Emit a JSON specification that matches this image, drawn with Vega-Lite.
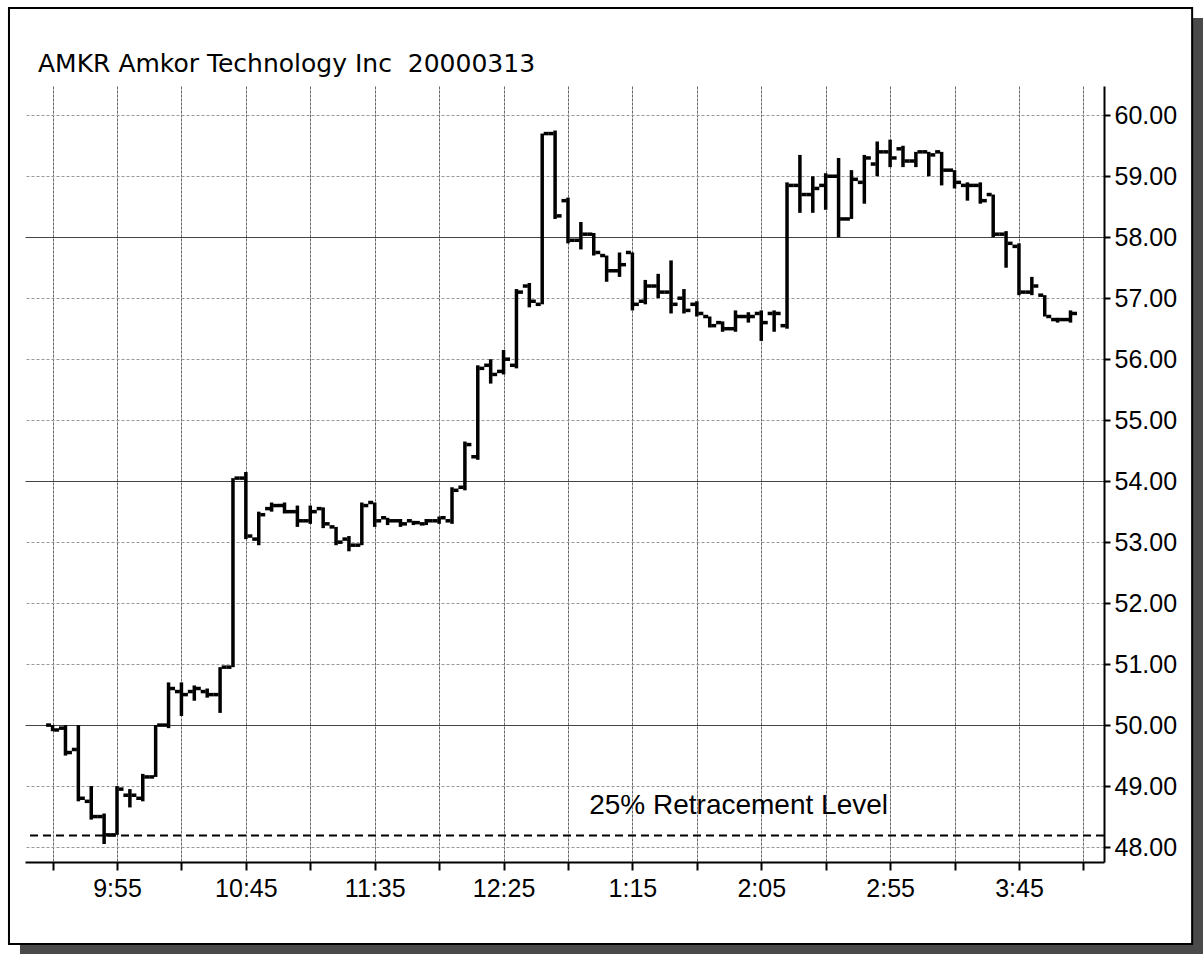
{
  "$schema": "https://vega.github.io/schema/vega-lite/v6.json",
  "width": 1079,
  "height": 776,
  "autosize": {"type": "none"},
  "padding": {"left": 25, "top": 86, "right": 99, "bottom": 92},
  "background": "white",
  "config": {"view": {"stroke": null}, "font": "Liberation Sans"},
  "layer": [
    {
      "data": {"values": [{}]},
      "mark": {"type": "rect", "fill": "#4a4a4a"},
      "encoding": {
        "x": {"datum": {"year": 1900, "month": 1, "date": 1, "hours": 16, "minutes": 52, "seconds": 30, "utc": true}, "type": "temporal", "scale": {"type": "utc", "nice": false, "domain": [{"year": 1900, "month": 1, "date": 1, "hours": 9, "minutes": 19, "seconds": 18, "utc": true}, {"year": 1900, "month": 1, "date": 1, "hours": 16, "minutes": 18, "utc": true}]}},
        "x2": {"datum": {"year": 1900, "month": 1, "date": 1, "hours": 17, "minutes": 1, "seconds": 6, "utc": true}},
        "y": {"datum": 61.595, "type": "quantitative", "scale": {"domain": [47.755, 60.48], "nice": false, "zero": false}},
        "y2": {"datum": 46.066}
      }
    },
    {
      "data": {"values": [{}]},
      "mark": {"type": "rect", "fill": "#4a4a4a"},
      "encoding": {
        "x": {"datum": {"year": 1900, "month": 1, "date": 1, "hours": 9, "minutes": 17, "seconds": 22, "utc": true}, "type": "temporal", "scale": {"type": "utc", "nice": false, "domain": [{"year": 1900, "month": 1, "date": 1, "hours": 9, "minutes": 19, "seconds": 18, "utc": true}, {"year": 1900, "month": 1, "date": 1, "hours": 16, "minutes": 18, "utc": true}]}},
        "x2": {"datum": {"year": 1900, "month": 1, "date": 1, "hours": 17, "minutes": 1, "seconds": 6, "utc": true}},
        "y": {"datum": 46.394, "type": "quantitative", "scale": {"domain": [47.755, 60.48], "nice": false, "zero": false}},
        "y2": {"datum": 46.066}
      }
    },
    {
      "data": {"values": [{}]},
      "mark": {"type": "rect", "filled": false, "stroke": "black", "strokeWidth": 2},
      "encoding": {
        "x": {"datum": {"year": 1900, "month": 1, "date": 1, "hours": 9, "minutes": 13, "seconds": 5, "utc": true}, "type": "temporal", "scale": {"type": "utc", "nice": false, "domain": [{"year": 1900, "month": 1, "date": 1, "hours": 9, "minutes": 19, "seconds": 18, "utc": true}, {"year": 1900, "month": 1, "date": 1, "hours": 16, "minutes": 18, "utc": true}]}},
        "x2": {"datum": {"year": 1900, "month": 1, "date": 1, "hours": 16, "minutes": 52, "seconds": 12, "utc": true}},
        "y": {"datum": 61.759, "type": "quantitative", "scale": {"domain": [47.755, 60.48], "nice": false, "zero": false}},
        "y2": {"datum": 46.41}
      }
    },
    {
      "data": {"values": [{}]},
      "mark": {"type": "text", "fontSize": 25, "font": "DejaVu Sans", "color": "black", "align": "left", "baseline": "alphabetic"},
      "encoding": {
        "x": {"datum": {"year": 1900, "month": 1, "date": 1, "hours": 9, "minutes": 24, "seconds": 21, "utc": true}, "type": "temporal", "scale": {"type": "utc", "nice": false, "domain": [{"year": 1900, "month": 1, "date": 1, "hours": 9, "minutes": 19, "seconds": 18, "utc": true}, {"year": 1900, "month": 1, "date": 1, "hours": 16, "minutes": 18, "utc": true}]}},
        "y": {"datum": 60.71, "type": "quantitative", "scale": {"domain": [47.755, 60.48], "nice": false, "zero": false}},
        "text": {"value": "AMKR Amkor Technology Inc\u00a0 20000313"}
      }
    },
    {
      "data": {"values": [{}]},
      "mark": {"type": "rule", "strokeDash": [8, 5], "strokeWidth": 2, "color": "black"},
      "encoding": {
        "y": {"datum": 48.19, "type": "quantitative", "scale": {"domain": [47.755, 60.48], "nice": false, "zero": false}}
      }
    },
    {
      "data": {"values": [{}]},
      "mark": {"type": "text", "fontSize": 28, "font": "Liberation Sans", "color": "black", "align": "center", "baseline": "middle"},
      "encoding": {
        "x": {"datum": {"year": 1900, "month": 1, "date": 1, "hours": 13, "minutes": 56, "seconds": 12, "utc": true}, "type": "temporal", "scale": {"type": "utc", "nice": false, "domain": [{"year": 1900, "month": 1, "date": 1, "hours": 9, "minutes": 19, "seconds": 18, "utc": true}, {"year": 1900, "month": 1, "date": 1, "hours": 16, "minutes": 18, "utc": true}]}},
        "y": {"datum": 48.678, "type": "quantitative", "scale": {"domain": [47.755, 60.48], "nice": false, "zero": false}},
        "text": {"value": "25% Retracement Level"}
      }
    },
    {
      "data": {
        "format": {"parse": {"t": "utc:'%H:%M'"}},
        "values": [
          {"t": "09:30", "o": 50.00, "h": 50.00, "l": 49.90, "c": 49.92},
          {"t": "09:35", "o": 49.95, "h": 50.00, "l": 49.50, "c": 49.55},
          {"t": "09:40", "o": 49.60, "h": 50.00, "l": 48.75, "c": 48.80},
          {"t": "09:45", "o": 48.75, "h": 49.00, "l": 48.45, "c": 48.50},
          {"t": "09:50", "o": 48.50, "h": 48.55, "l": 48.05, "c": 48.20},
          {"t": "09:55", "o": 48.20, "h": 49.00, "l": 48.20, "c": 48.95},
          {"t": "10:00", "o": 48.85, "h": 48.95, "l": 48.65, "c": 48.85},
          {"t": "10:05", "o": 48.80, "h": 49.20, "l": 48.75, "c": 49.15},
          {"t": "10:10", "o": 49.15, "h": 50.00, "l": 49.15, "c": 50.00},
          {"t": "10:15", "o": 50.00, "h": 50.70, "l": 49.95, "c": 50.60},
          {"t": "10:20", "o": 50.55, "h": 50.70, "l": 50.15, "c": 50.50},
          {"t": "10:25", "o": 50.55, "h": 50.65, "l": 50.40, "c": 50.60},
          {"t": "10:30", "o": 50.55, "h": 50.60, "l": 50.45, "c": 50.50},
          {"t": "10:35", "o": 50.50, "h": 50.95, "l": 50.20, "c": 50.95},
          {"t": "10:40", "o": 50.95, "h": 54.05, "l": 50.95, "c": 54.05},
          {"t": "10:45", "o": 54.05, "h": 54.15, "l": 53.05, "c": 53.10},
          {"t": "10:50", "o": 53.05, "h": 53.50, "l": 52.95, "c": 53.45},
          {"t": "10:55", "o": 53.55, "h": 53.65, "l": 53.50, "c": 53.60},
          {"t": "11:00", "o": 53.60, "h": 53.65, "l": 53.47, "c": 53.50},
          {"t": "11:05", "o": 53.50, "h": 53.60, "l": 53.25, "c": 53.35},
          {"t": "11:10", "o": 53.35, "h": 53.60, "l": 53.30, "c": 53.50},
          {"t": "11:15", "o": 53.55, "h": 53.57, "l": 53.23, "c": 53.30},
          {"t": "11:20", "o": 53.25, "h": 53.25, "l": 52.95, "c": 53.00},
          {"t": "11:25", "o": 53.05, "h": 53.10, "l": 52.85, "c": 52.95},
          {"t": "11:30", "o": 52.95, "h": 53.65, "l": 52.95, "c": 53.60},
          {"t": "11:35", "o": 53.65, "h": 53.65, "l": 53.25, "c": 53.35},
          {"t": "11:40", "o": 53.40, "h": 53.40, "l": 53.28, "c": 53.35},
          {"t": "11:45", "o": 53.35, "h": 53.38, "l": 53.25, "c": 53.30},
          {"t": "11:50", "o": 53.35, "h": 53.35, "l": 53.28, "c": 53.32},
          {"t": "11:55", "o": 53.30, "h": 53.38, "l": 53.28, "c": 53.35},
          {"t": "12:00", "o": 53.35, "h": 53.42, "l": 53.30, "c": 53.40},
          {"t": "12:05", "o": 53.35, "h": 53.90, "l": 53.30, "c": 53.85},
          {"t": "12:10", "o": 53.90, "h": 54.65, "l": 53.85, "c": 54.60},
          {"t": "12:15", "o": 54.40, "h": 55.90, "l": 54.35, "c": 55.85},
          {"t": "12:20", "o": 55.90, "h": 56.00, "l": 55.60, "c": 55.75},
          {"t": "12:25", "o": 55.80, "h": 56.15, "l": 55.75, "c": 56.00},
          {"t": "12:30", "o": 55.90, "h": 57.15, "l": 55.85, "c": 57.10},
          {"t": "12:35", "o": 57.20, "h": 57.25, "l": 56.85, "c": 56.95},
          {"t": "12:40", "o": 56.90, "h": 59.70, "l": 56.90, "c": 59.70},
          {"t": "12:45", "o": 59.70, "h": 59.75, "l": 58.30, "c": 58.35},
          {"t": "12:50", "o": 58.60, "h": 58.65, "l": 57.90, "c": 57.95},
          {"t": "12:55", "o": 57.95, "h": 58.25, "l": 57.80, "c": 58.05},
          {"t": "13:00", "o": 58.05, "h": 58.07, "l": 57.70, "c": 57.75},
          {"t": "13:05", "o": 57.70, "h": 57.70, "l": 57.27, "c": 57.45},
          {"t": "13:10", "o": 57.45, "h": 57.75, "l": 57.35, "c": 57.55},
          {"t": "13:15", "o": 57.75, "h": 57.75, "l": 56.80, "c": 56.90},
          {"t": "13:20", "o": 56.95, "h": 57.30, "l": 56.90, "c": 57.20},
          {"t": "13:25", "o": 57.20, "h": 57.40, "l": 57.00, "c": 57.10},
          {"t": "13:30", "o": 57.10, "h": 57.62, "l": 56.75, "c": 56.90},
          {"t": "13:35", "o": 57.00, "h": 57.15, "l": 56.75, "c": 56.80},
          {"t": "13:40", "o": 56.90, "h": 56.95, "l": 56.70, "c": 56.75},
          {"t": "13:45", "o": 56.70, "h": 56.70, "l": 56.52, "c": 56.55},
          {"t": "13:50", "o": 56.60, "h": 56.62, "l": 56.45, "c": 56.50},
          {"t": "13:55", "o": 56.50, "h": 56.80, "l": 56.45, "c": 56.70},
          {"t": "14:00", "o": 56.70, "h": 56.77, "l": 56.60, "c": 56.70},
          {"t": "14:05", "o": 56.75, "h": 56.80, "l": 56.30, "c": 56.60},
          {"t": "14:10", "o": 56.75, "h": 56.80, "l": 56.45, "c": 56.75},
          {"t": "14:15", "o": 56.55, "h": 58.90, "l": 56.50, "c": 58.85},
          {"t": "14:20", "o": 58.85, "h": 59.35, "l": 58.40, "c": 58.70},
          {"t": "14:25", "o": 58.70, "h": 59.00, "l": 58.40, "c": 58.80},
          {"t": "14:30", "o": 58.85, "h": 59.05, "l": 58.45, "c": 59.00},
          {"t": "14:35", "o": 59.00, "h": 59.30, "l": 58.00, "c": 58.30},
          {"t": "14:40", "o": 58.30, "h": 59.10, "l": 58.30, "c": 58.95},
          {"t": "14:45", "o": 58.90, "h": 59.35, "l": 58.55, "c": 59.30},
          {"t": "14:50", "o": 59.20, "h": 59.57, "l": 59.00, "c": 59.40},
          {"t": "14:55", "o": 59.40, "h": 59.60, "l": 59.15, "c": 59.30},
          {"t": "15:00", "o": 59.45, "h": 59.50, "l": 59.15, "c": 59.25},
          {"t": "15:05", "o": 59.25, "h": 59.40, "l": 59.15, "c": 59.40},
          {"t": "15:10", "o": 59.40, "h": 59.40, "l": 59.00, "c": 59.35},
          {"t": "15:15", "o": 59.40, "h": 59.40, "l": 58.85, "c": 59.10},
          {"t": "15:20", "o": 59.10, "h": 59.10, "l": 58.80, "c": 58.90},
          {"t": "15:25", "o": 58.85, "h": 58.90, "l": 58.60, "c": 58.85},
          {"t": "15:30", "o": 58.85, "h": 58.90, "l": 58.55, "c": 58.60},
          {"t": "15:35", "o": 58.70, "h": 58.70, "l": 58.00, "c": 58.05},
          {"t": "15:40", "o": 58.05, "h": 58.10, "l": 57.50, "c": 57.90},
          {"t": "15:45", "o": 57.85, "h": 57.90, "l": 57.05, "c": 57.10},
          {"t": "15:50", "o": 57.10, "h": 57.35, "l": 57.05, "c": 57.20},
          {"t": "15:55", "o": 57.05, "h": 57.05, "l": 56.70, "c": 56.70},
          {"t": "16:00", "o": 56.65, "h": 56.68, "l": 56.60, "c": 56.65},
          {"t": "16:05", "o": 56.65, "h": 56.80, "l": 56.60, "c": 56.75}
        ]
      },
      "layer": [
        {
          "mark": {"type": "rule", "strokeWidth": 3.5, "color": "black"},
          "encoding": {
            "x": {
              "field": "t", "type": "temporal",
              "scale": {"type": "utc", "nice": false, "domain": [{"year": 1900, "month": 1, "date": 1, "hours": 9, "minutes": 19, "seconds": 18, "utc": true}, {"year": 1900, "month": 1, "date": 1, "hours": 16, "minutes": 18, "utc": true}]},
              "axis": {
                "orient": "bottom", "title": null,
                "values": [
                  {"year": 1900, "month": 1, "date": 1, "hours": 9, "minutes": 30, "utc": true},
                  {"year": 1900, "month": 1, "date": 1, "hours": 9, "minutes": 55, "utc": true},
                  {"year": 1900, "month": 1, "date": 1, "hours": 10, "minutes": 20, "utc": true},
                  {"year": 1900, "month": 1, "date": 1, "hours": 10, "minutes": 45, "utc": true},
                  {"year": 1900, "month": 1, "date": 1, "hours": 11, "minutes": 10, "utc": true},
                  {"year": 1900, "month": 1, "date": 1, "hours": 11, "minutes": 35, "utc": true},
                  {"year": 1900, "month": 1, "date": 1, "hours": 12, "minutes": 0, "utc": true},
                  {"year": 1900, "month": 1, "date": 1, "hours": 12, "minutes": 25, "utc": true},
                  {"year": 1900, "month": 1, "date": 1, "hours": 12, "minutes": 50, "utc": true},
                  {"year": 1900, "month": 1, "date": 1, "hours": 13, "minutes": 15, "utc": true},
                  {"year": 1900, "month": 1, "date": 1, "hours": 13, "minutes": 40, "utc": true},
                  {"year": 1900, "month": 1, "date": 1, "hours": 14, "minutes": 5, "utc": true},
                  {"year": 1900, "month": 1, "date": 1, "hours": 14, "minutes": 30, "utc": true},
                  {"year": 1900, "month": 1, "date": 1, "hours": 14, "minutes": 55, "utc": true},
                  {"year": 1900, "month": 1, "date": 1, "hours": 15, "minutes": 20, "utc": true},
                  {"year": 1900, "month": 1, "date": 1, "hours": 15, "minutes": 45, "utc": true},
                  {"year": 1900, "month": 1, "date": 1, "hours": 16, "minutes": 10, "utc": true}
                ],
                "labelExpr": "((utchours(datum.value) * 60 + utcminutes(datum.value) - 595) % 50 == 0) ? utcFormat(datum.value, '%-I:%M') : ''",
                "labelFont": "Liberation Sans", "labelFontSize": 25, "labelColor": "black",
                "labelPadding": 6, "labelFlush": false, "labelOverlap": false,
                "tickSize": 8, "tickColor": "black", "tickWidth": 2,
                "domainColor": "black", "domainWidth": 2,
                "grid": true, "gridColor": "#666", "gridDash": [3, 1], "gridWidth": 1
              }
            },
            "y": {
              "field": "l", "type": "quantitative",
              "scale": {"domain": [47.755, 60.48], "nice": false, "zero": false},
              "axis": {
                "orient": "right", "title": null,
                "values": [48, 49, 50, 51, 52, 53, 54, 55, 56, 57, 58, 59, 60],
                "format": ".2f",
                "labelFont": "Liberation Sans", "labelFontSize": 25, "labelColor": "black",
                "labelPadding": 4, "labelFlush": false, "labelOverlap": false,
                "tickSize": 6, "tickColor": "black", "tickWidth": 2,
                "domainColor": "black", "domainWidth": 2,
                "grid": true,
                "gridColor": {"condition": {"test": "datum.value % 4 == 2", "value": "#444"}, "value": "#999"},
                "gridDash": {"condition": {"test": "datum.value % 4 == 2", "value": []}, "value": [3, 2]},
                "gridWidth": 1
              }
            },
            "y2": {"field": "h"}
          }
        },
        {
          "mark": {"type": "tick", "orient": "horizontal", "size": 5, "thickness": 3.5, "xOffset": -4, "color": "black", "opacity": 1},
          "encoding": {
            "x": {"field": "t", "type": "temporal", "scale": {"type": "utc", "nice": false, "domain": [{"year": 1900, "month": 1, "date": 1, "hours": 9, "minutes": 19, "seconds": 18, "utc": true}, {"year": 1900, "month": 1, "date": 1, "hours": 16, "minutes": 18, "utc": true}]}},
            "y": {"field": "o", "type": "quantitative", "scale": {"domain": [47.755, 60.48], "nice": false, "zero": false}}
          }
        },
        {
          "mark": {"type": "tick", "orient": "horizontal", "size": 5, "thickness": 3.5, "xOffset": 4, "color": "black", "opacity": 1},
          "encoding": {
            "x": {"field": "t", "type": "temporal", "scale": {"type": "utc", "nice": false, "domain": [{"year": 1900, "month": 1, "date": 1, "hours": 9, "minutes": 19, "seconds": 18, "utc": true}, {"year": 1900, "month": 1, "date": 1, "hours": 16, "minutes": 18, "utc": true}]}},
            "y": {"field": "c", "type": "quantitative", "scale": {"domain": [47.755, 60.48], "nice": false, "zero": false}}
          }
        }
      ]
    }
  ]
}
